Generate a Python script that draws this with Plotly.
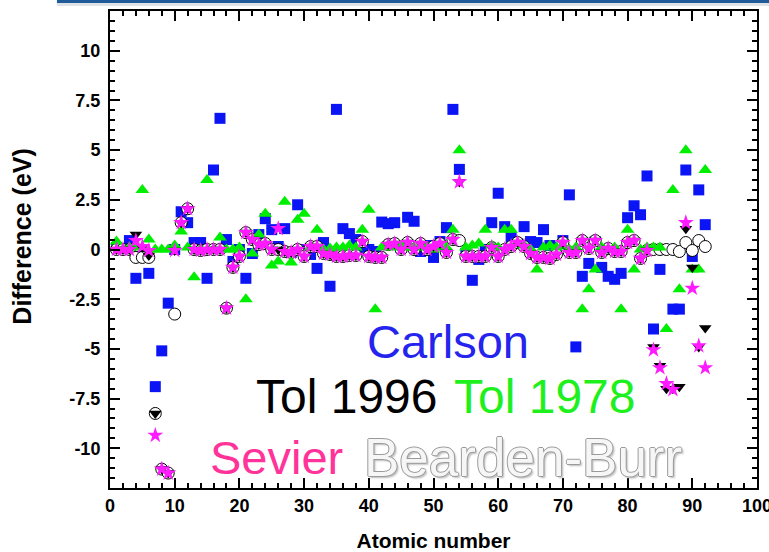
import plotly.graph_objects as go

# Atomic numbers
Z = [1, 2, 3, 4, 5, 6, 7, 8, 9, 10, 11, 12, 13, 14, 15, 16, 17, 18, 19, 20,
     21, 22, 23, 24, 25, 26, 27, 28, 29, 30, 31, 32, 33, 34, 35, 36, 37, 38, 39, 40,
     41, 42, 43, 44, 45, 46, 47, 48, 49, 50, 51, 52, 53, 54, 55, 56, 57, 58, 59, 60,
     61, 62, 63, 64, 65, 66, 67, 68, 69, 70, 71, 72, 73, 74, 75, 76, 77, 78, 79, 80,
     81, 82, 83, 84, 85, 86, 87, 88, 89, 90, 91, 92]

carlson = [0.1, 0.0, 0.45, -1.45, -0.35, -1.2, -6.9, -5.1, -2.7, 0.0,
           1.9, 1.35, 0.35, 0.35, -1.45, 4.0, 6.6, 0.5, -0.6, 0.0,
           -1.45, -0.2, 0.75, 1.55, 1.0, 0.15, 1.05, -0.15, 2.25, 0.0,
           -0.25, -0.95, 0.35, -1.85, 7.05, 1.05, 0.8, 0.5, 0.1, 0.0,
           -0.1, 1.38, 1.3, 1.35, 0.1, 1.62, 1.42, -0.1, 0.2, -0.4,
           0.4, 1.1, 7.05, 4.03, -0.2, -1.55, -0.5, 0.0, 1.35, 2.83,
           1.15, 0.6, 0.3, 1.15, 0.4, 0.35, 1.0, 0.2, 0.1, 0.45,
           2.75, -4.9, -1.35, -0.7, 0.4, -0.9, -1.35, -1.5, -1.2, 1.6,
           2.2, 1.75, 3.7, -4.0, -1.0, 0.0, -3.0, -3.0, 4.0, -0.35,
           3.0, 1.25]

tol1978 = [0.4, 0.0, 0.1, 0.1, 3.0, 0.5, 0.0, 0.0, 0.0, 0.2,
           0.9, 0.1, -1.4, 0.0, 3.5, 0.0, 0.6, 0.0, 0.0, 0.1,
           -2.5, -0.2, 0.75, 1.8, -0.8, -0.6, 2.4, -0.65, 1.5, 1.8,
           0.1, 1.0, 0.0, 0.05, 0.1, 0.1, 0.2, 0.1, 1.0, 2.0,
           -3.0, 0.1, 0.2, 0.1, 0.2, 0.1, 0.1, 0.2, 0.1, 0.0,
           0.1, 0.1, 1.0, 5.0, 0.1, 0.2, 0.3, 1.0, 0.2, 0.1,
           1.0, 1.0, 0.3, 0.2, 0.0, -1.0, 0.1, 0.2, 0.1, 0.2,
           0.0, 0.1, -3.0, -2.0, -1.0, 0.1, 0.0, 0.1, -3.0, 1.0,
           -1.0, 0.0, 0.1, 0.1, 0.1, -4.0, 3.0, -2.0, 5.0, -1.0,
           -1.0, 4.0]

tol1996 = [0.0, 0.0, 0.0, 0.75, 0.1, -0.3, -8.25, -11.05, -11.25, -0.05,
           1.35, 2.05, 0.0, -0.05, 0.0, 0.0, 0.0, -2.95, -0.9, -0.35,
           0.85, 0.5, 0.25, 0.3, 0.0, 0.0, -0.1, -0.15, 0.0, -0.35,
           0.15, 0.15, -0.2, -0.25, -0.35, -0.35, -0.3, -0.3, 0.4, -0.35,
           -0.4, -0.4, 0.25, 0.3, 0.0, 0.35, 0.0, 0.3, 0.0, 0.15,
           0.3, -0.15, 0.5, 3.4, -0.35, -0.35, -0.35, -0.35, 0.1, -0.35,
           0.0, 0.15, 0.35, 0.15, -0.2, -0.4, -0.4, -0.45, -0.25, 0.35,
           -0.15, -0.15, 0.45, 0.05, 0.45, -0.15, 0.05, -0.1, -0.1, 0.35,
           0.45, -0.45, -0.05, -4.9, -5.85, -7.0, -7.0, -6.9, 1.05, -0.9,
           -4.9, -3.95]

sevier = [0.0, 0.0, 0.0, 0.45, 0.15, -0.05, -9.35, -11.05, -11.25, -0.05,
          1.35, 2.05, 0.0, -0.05, 0.0, 0.0, 0.0, -2.95, -0.9, -0.35,
          0.85, 0.5, 0.25, 0.3, 0.0, 1.05, -0.1, -0.15, 0.0, -0.35,
          0.15, 0.15, -0.2, -0.25, -0.35, -0.35, -0.3, -0.3, 0.4, -0.35,
          -0.4, -0.4, 0.25, 0.3, 0.0, 0.35, 0.0, 0.3, 0.0, 0.15,
          0.3, -0.15, 0.5, 3.4, -0.35, -0.35, -0.35, -0.35, 0.1, -0.35,
          0.0, 0.15, 0.35, 0.15, -0.2, -0.4, -0.4, -0.45, -0.25, 0.35,
          -0.15, -0.15, 0.45, 0.05, 0.45, -0.15, 0.05, -0.1, -0.1, 0.35,
          0.45, -0.45, -0.05, -5.05, -5.95, -6.75, -7.05, None, 1.35, -1.95,
          -4.85, -5.95]

bearden_burr = [0.0, 0.0, 0.0, -0.4, -0.4, -0.4, -8.25, -11.05, -11.25, -3.25,
                1.35, 2.05, 0.0, -0.05, 0.0, 0.0, 0.0, -2.95, -0.9, -0.35,
                0.85, 0.5, 0.25, 0.3, 0.0, 0.0, -0.1, -0.15, 0.0, -0.35,
                0.15, 0.15, -0.2, -0.25, -0.35, -0.35, -0.3, -0.3, 0.4, -0.35,
                -0.4, -0.4, 0.25, 0.3, 0.0, 0.35, 0.0, 0.3, 0.0, 0.15,
                0.3, -0.15, 0.5, 0.45, -0.35, -0.35, -0.35, -0.35, 0.1, -0.35,
                0.0, 0.15, 0.35, 0.15, -0.2, -0.4, -0.4, -0.45, -0.25, 0.35,
                -0.15, -0.15, 0.45, 0.05, 0.45, -0.15, 0.05, -0.1, -0.1, 0.35,
                0.45, -0.45, -0.05, 0.0, 0.0, 0.0, 0.0, -0.1, 0.35, -0.05,
                0.45, 0.15]

x_tickvals = [0, 10, 20, 30, 40, 50, 60, 70, 80, 90, 100]
x_ticktext = ["0", "10", "20", "30", "40", "50", "60", "70", "80", "90", "100"]
y_tickvals = [-10, -7.5, -5, -2.5, 0, 2.5, 5, 7.5, 10]
y_ticktext = ["-10", "-7.5", "-5", "-2.5", "0", "2.5", "5", "7.5", "10"]

FONT = "Liberation Sans, Arial, Helvetica, sans-serif"

fig = go.Figure()
fig.add_trace(go.Scatter(x=Z, y=carlson, mode="markers", name="Carlson",
                         marker=dict(symbol="square", size=11, color="#0a14f5",
                                     line=dict(width=0))))
fig.add_trace(go.Scatter(x=Z, y=bearden_burr, mode="markers", name="Bearden-Burr",
                         marker=dict(symbol="circle", size=12, color="white",
                                     line=dict(width=1, color="black"))))
fig.add_trace(go.Scatter(x=Z, y=tol1978, mode="markers", name="Tol 1978",
                         marker=dict(symbol="triangle-up", size=12, color="#00ee00",
                                     line=dict(width=0))))
fig.add_trace(go.Scatter(x=Z, y=tol1996, mode="markers", name="Tol 1996",
                         marker=dict(symbol="triangle-down", size=11, color="black",
                                     line=dict(width=0))))
fig.add_trace(go.Scatter(x=Z, y=sevier, mode="markers", name="Sevier",
                         marker=dict(symbol="star", size=12, color="#ff1aff",
                                     line=dict(width=0))))

ann_font = dict(family=FONT, size=47)
fig.add_annotation(x=39.4, y=-4.63, xref="x", yref="y", text="Carlson", showarrow=False,
                   xanchor="left", yanchor="middle", font=dict(ann_font, color="#2424ee"))
fig.add_annotation(x=22.3, y=-7.4, xref="x", yref="y", text="Tol 1996", showarrow=False,
                   xanchor="left", yanchor="middle", font=dict(family=FONT, size=48, color="black"))
fig.add_annotation(x=52.8, y=-7.4, xref="x", yref="y", text="Tol 1978", showarrow=False,
                   xanchor="left", yanchor="middle", font=dict(family=FONT, size=48, color="#1ef01e"))
fig.add_annotation(x=15.2, y=-10.48, xref="x", yref="y", text="Sevier", showarrow=False,
                   xanchor="left", yanchor="middle", font=dict(ann_font, color="#ff3399"))
fig.add_annotation(x=38.9, y=-10.48, xref="x", yref="y", text="Bearden-Burr", showarrow=False,
                   xanchor="left", yanchor="middle",
                   font=dict(family=FONT, size=53, color="#f6f6f6",
                             shadow="1px 0 0 #9a9a9a, -1px 0 0 #9a9a9a, 0 1px 0 #9a9a9a, 0 -1px 0 #9a9a9a, 2px 2px 2px #bbbbbb"))

# y-axis title (placed slightly above the plot centre, as in the original)
fig.add_annotation(x=-0.136, y=0.527, xref="paper", yref="paper", text="Difference (eV)",
                   showarrow=False, textangle=-90, xanchor="center", yanchor="middle",
                   font=dict(family=FONT, size=25, color="black", weight="bold"))

# window chrome line at the very top
fig.add_shape(type="rect", xref="paper", yref="paper", x0=-0.082, x1=1.03, y0=1.0168, y1=1.03,
              fillcolor="#1f5b98", line=dict(width=0), layer="above")
fig.add_shape(type="rect", xref="paper", yref="paper", x0=-0.082, x1=1.03, y0=1.0105, y1=1.0168,
              fillcolor="#dfe3e8", line=dict(width=0), layer="above")

axis_common = dict(showline=True, linewidth=2, linecolor="black", mirror="allticks",
                   ticks="inside", tickcolor="#000000", tickwidth=2, ticklen=10,
                   showgrid=False, zeroline=False, automargin=False,
                   ticklabeloverflow="allow",
                   tickfont=dict(family=FONT, size=18, color="black", weight="bold"))

fig.update_xaxes(range=[0, 100], tickmode="array", tickvals=x_tickvals, ticktext=x_ticktext,
                 minor=dict(tick0=0, dtick=2, ticks="inside", ticklen=5, tickcolor="#000000",
                            tickwidth=1.5, showgrid=False),
                 title=dict(text="Atomic number", standoff=20,
                            font=dict(family=FONT, size=21, color="black", weight="bold")),
                 **axis_common)
fig.update_yaxes(range=[-12, 12], tickmode="array", tickvals=y_tickvals, ticktext=y_ticktext,
                 minor=dict(tick0=0, dtick=0.5, ticks="inside", ticklen=5, tickcolor="#000000",
                            tickwidth=1.5, showgrid=False),
                 ticklabelstandoff=4,
                 **axis_common)

fig.update_layout(width=769, height=552, showlegend=False,
                  plot_bgcolor="white", paper_bgcolor="white",
                  margin=dict(l=110, r=12, t=11, b=64))

fig.write_html("out.html", config={"displayModeBar": False},
               post_script="document.body.style.margin='0';document.body.style.overflow='hidden';")
